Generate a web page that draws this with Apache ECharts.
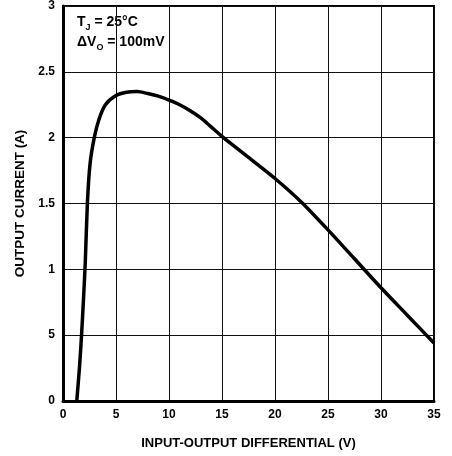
<!DOCTYPE html>
<html>
<head>
<meta charset="utf-8">
<script src="https://cdn.jsdelivr.net/npm/echarts@6/dist/echarts.min.js"></script>
<style>
  html, body { margin: 0; padding: 0; background: #fff; }
  #chart { width: 452px; height: 456px; }
</style>
</head>
<body>
<div id="chart"></div>
<script>
// input-output differential (V) vs output current (A)
const voltage = [1.3, 1.55, 1.75, 1.95, 2.1, 2.3, 2.55, 2.95, 3.4, 4, 5, 6, 7, 8, 9, 10, 11, 12, 13, 14, 15, 16, 17.5, 20, 22.5, 25, 27.5, 30, 32.5, 35];
const current = [0, 0.25, 0.5, 0.8, 1.05, 1.5, 1.8, 2.0, 2.14, 2.25, 2.32, 2.345, 2.35, 2.335, 2.315, 2.285, 2.25, 2.205, 2.15, 2.08, 2.01, 1.945, 1.85, 1.69, 1.51, 1.3, 1.08, 0.86, 0.65, 0.44];
const yTickLabels = { '0': '0', '0.5': '5', '1': '1', '1.5': '1.5', '2': '2', '2.5': '2.5', '3': '3' };

const font = '"Liberation Sans", Arial, sans-serif';
const chart = echarts.init(document.getElementById('chart'));

const option = {
  animation: false,
  backgroundColor: '#fff',
  grid: { left: 63, right: 18, top: 5, bottom: 55, show: true, borderColor: '#000', borderWidth: 2 },
  xAxis: {
    type: 'value', min: 0, max: 35, interval: 5,
    name: 'INPUT-OUTPUT DIFFERENTIAL (V)',
    nameLocation: 'middle', nameGap: 36,
    nameTextStyle: { fontFamily: font, fontWeight: 'bold', fontSize: 13, color: '#000' },
    axisLine: { lineStyle: { color: '#000', width: 3 } },
    axisTick: { show: false },
    axisLabel: { fontFamily: font, fontWeight: 'bold', fontSize: 12, color: '#000', margin: 8 },
    splitLine: { lineStyle: { color: '#111', width: 1 } }
  },
  yAxis: {
    type: 'value', min: 0, max: 3, interval: 0.5,
    name: 'OUTPUT CURRENT (A)',
    nameLocation: 'middle', nameGap: 34, nameRotate: 90,
    nameTextStyle: { fontFamily: font, fontWeight: 'bold', fontSize: 13.5, color: '#000' },
    axisLine: { lineStyle: { color: '#000', width: 3 } },
    axisTick: { show: false },
    axisLabel: {
      fontFamily: font, fontWeight: 'bold', fontSize: 12, color: '#000', margin: 8,
      formatter: v => yTickLabels[String(v)] ?? String(v)
    },
    splitLine: { lineStyle: { color: '#111', width: 1 } }
  },
  graphic: [{
    type: 'text', left: 77, top: 15,
    style: {
      text: '{a|T}{s|J}{a| = 25°C}\n{a|ΔV}{s|O}{a| = 100mV}',
      rich: {
        a: { fontFamily: font, fontWeight: 'bold', fontSize: 14, fill: '#000', lineHeight: 20 },
        s: { fontFamily: font, fontWeight: 'bold', fontSize: 9, fill: '#000', verticalAlign: 'bottom', lineHeight: 20, padding: [3, 0, 0, 0] }
      }
    }
  }],
  series: [{
    type: 'line',
    data: voltage.map((v, i) => [v, current[i]]),
    smooth: 0.25,
    showSymbol: false,
    lineStyle: { color: '#000', width: 3.5 }
  }]
};
chart.setOption(option);
</script>
</body>
</html>
